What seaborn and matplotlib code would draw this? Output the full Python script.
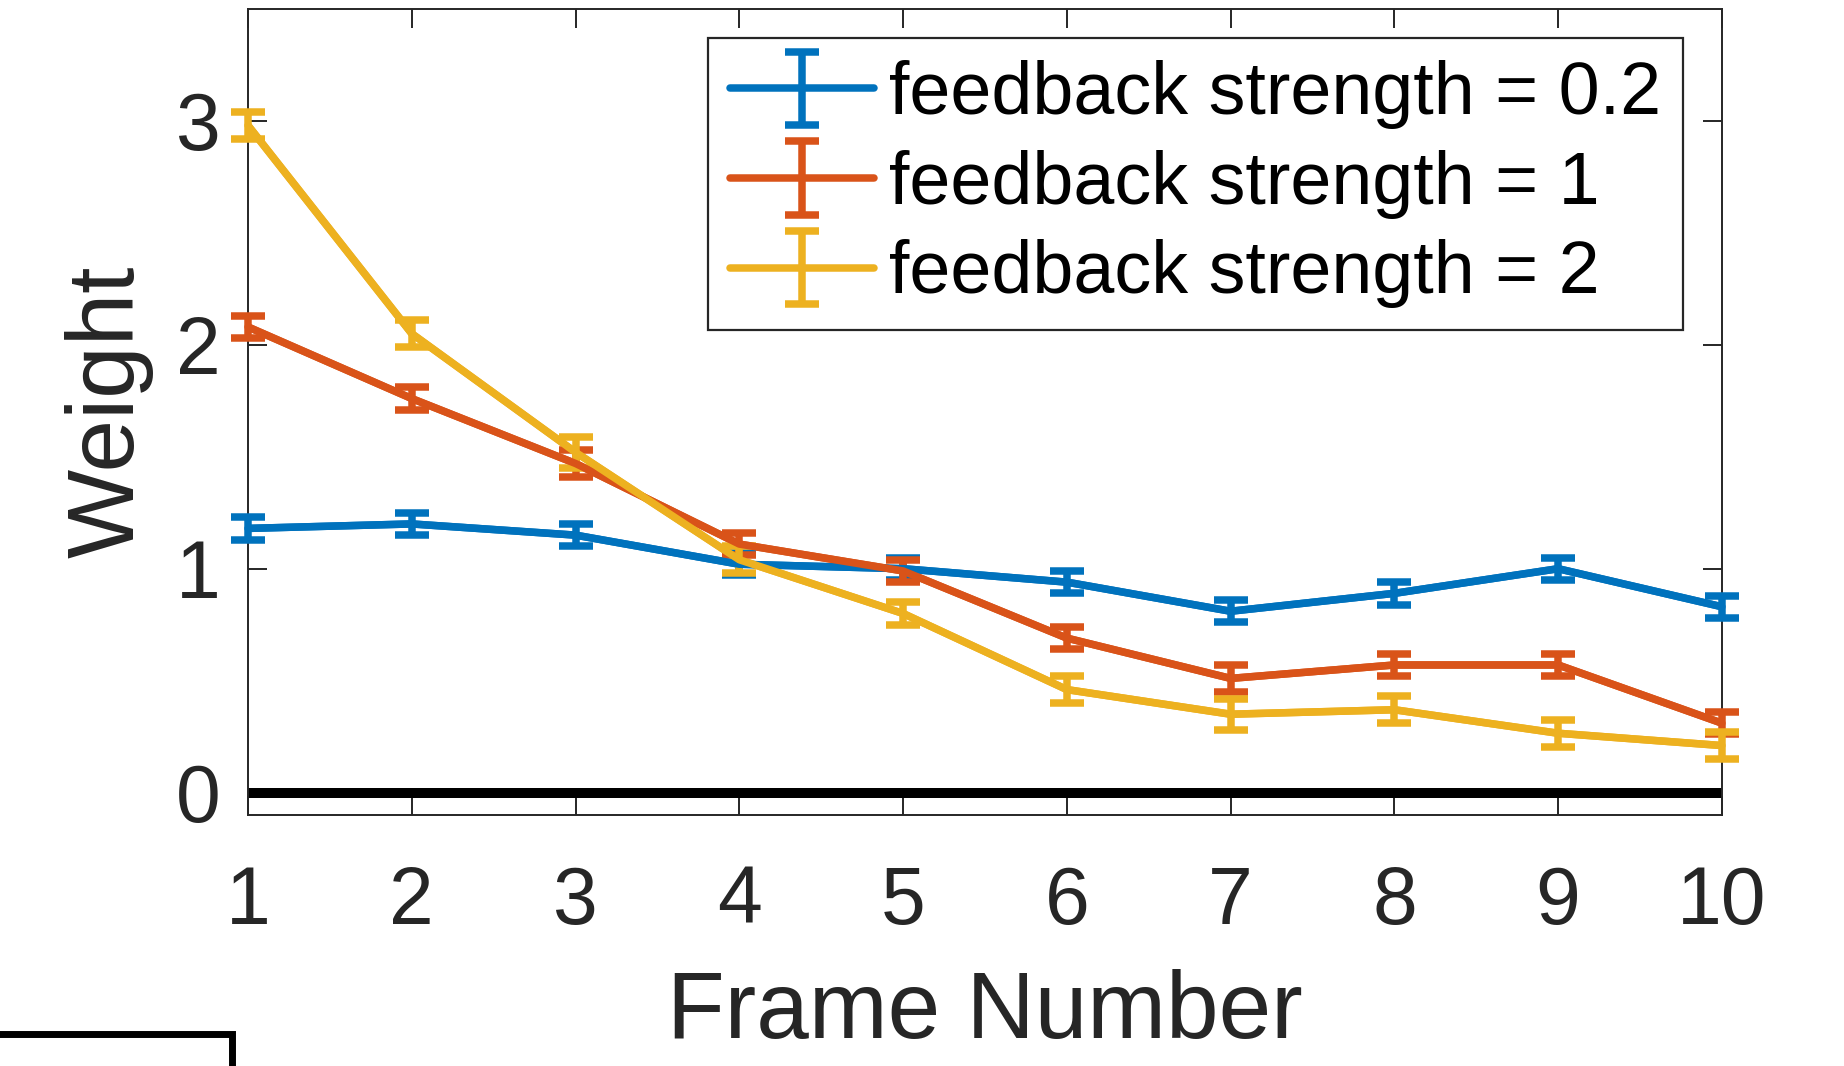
import numpy as np
import pandas as pd
import seaborn as sns
import matplotlib
matplotlib.use("Agg")
import matplotlib.pyplot as plt
from matplotlib.patches import Rectangle

frames = [1, 2, 3, 4, 5, 6, 7, 8, 9, 10]
labels = ["feedback strength = 0.2", "feedback strength = 1", "feedback strength = 2"]
w_02 = [1.18, 1.20, 1.15, 1.02, 1.00, 0.94, 0.81, 0.89, 1.00, 0.83]
w_1 = [2.08, 1.76, 1.47, 1.11, 0.99, 0.69, 0.51, 0.57, 0.57, 0.31]
w_2 = [2.98, 2.05, 1.52, 1.04, 0.80, 0.46, 0.35, 0.37, 0.265, 0.21]
e_02 = [0.05, 0.05, 0.05, 0.05, 0.05, 0.05, 0.05, 0.05, 0.05, 0.05]
e_1 = [0.05, 0.05, 0.06, 0.05, 0.05, 0.05, 0.06, 0.05, 0.05, 0.05]
e_2 = [0.06, 0.06, 0.07, 0.06, 0.05, 0.06, 0.07, 0.06, 0.06, 0.06]
colors = ["#0072BD", "#D95319", "#EDB120"]

sns.set_theme(style="ticks")
plt.rcParams["font.family"] = ["Liberation Sans", "DejaVu Sans"]
ink = "#262626"

fig = plt.figure(figsize=(9.22, 5.33), dpi=200)
ax = fig.add_axes([0.1345, 0.2355, 0.7993, 0.756])

series = [(w_02, e_02), (w_1, e_1), (w_2, e_2)]
for (w, e), lab, c in zip(series, labels, colors):
    df = pd.DataFrame({"frame": frames, "weight": w})
    sns.lineplot(data=df, x="frame", y="weight", ax=ax, color=c, lw=2.7, legend=False)
    ax.errorbar(frames, w, yerr=e, fmt="-", color=c, lw=2.7, elinewidth=2.7,
                capsize=6, capthick=2.7, label=lab, clip_on=False, zorder=3)

ax.axhline(0, color="black", lw=3.6, zorder=2)

ax.set_xlim(1, 10)
ax.set_ylim(-0.1, 3.5)
ax.set_xticks(frames)
ax.set_yticks([0, 1, 2, 3])
ax.tick_params(axis="both", direction="in", length=7, width=0.7, colors=ink,
               labelsize=29, top=True, right=True)
ax.tick_params(axis="x", pad=18)
ax.tick_params(axis="y", pad=10)
for s in ax.spines.values():
    s.set_visible(True)
    s.set_color(ink)
    s.set_linewidth(0.7)

ax.set_xlabel("Frame Number", fontsize=34, color=ink, labelpad=10)
ax.set_ylabel("Weight", fontsize=34, color=ink, labelpad=8)

leg = ax.legend(loc="upper right", bbox_to_anchor=(0.9735, 0.964), borderaxespad=0,
                fontsize=26.5, frameon=True, fancybox=False, framealpha=1,
                edgecolor=ink, handlelength=1.95, handletextpad=0.2,
                labelspacing=0.28, borderpad=0.3)
leg.get_frame().set_linewidth(0.8)
for t in leg.get_texts():
    t.set_color("black")

fig.patches.append(Rectangle((-0.02, -0.1), 0.146, 0.13, transform=fig.transFigure,
                             fill=False, edgecolor="black", lw=2.5, clip_on=False))

fig.savefig("out.png", dpi=200)
